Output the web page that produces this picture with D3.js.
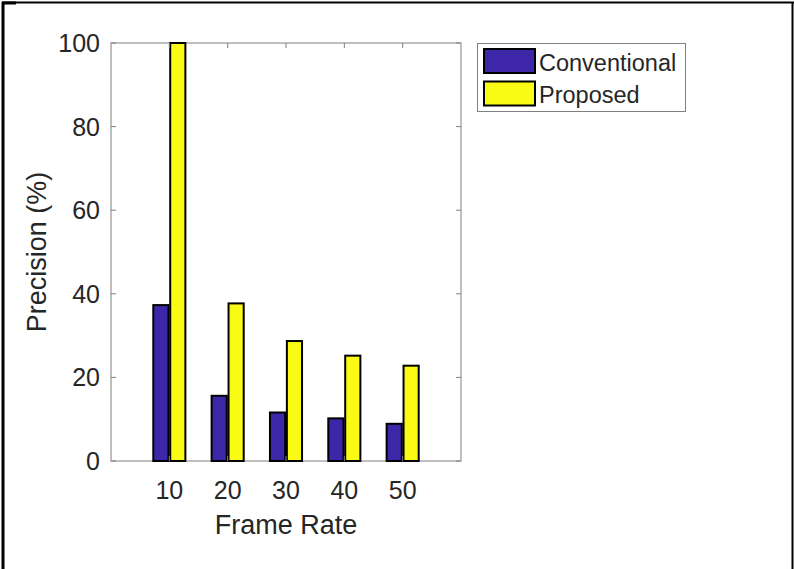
<!DOCTYPE html>
<html>
<head>
<meta charset="utf-8">
<script src="https://cdn.jsdelivr.net/npm/d3@7"></script>
<style>
  body { margin: 0; background: #fff; }
  svg text { font-family: "Liberation Sans", Arial, sans-serif; fill: #262626; }
</style>
</head>
<body>
<div id="chart"></div>
<script>
// data
const frameRates   = [10, 20, 30, 40, 50];
const conventional = [37.3, 15.6, 11.6, 10.2, 8.9];
const proposed     = [100, 37.7, 28.7, 25.2, 22.8];
const yTicks       = [0, 20, 40, 60, 80, 100];
const seriesNames  = ["Conventional", "Proposed"];
const seriesColors = ["#3e26a8", "#f9fb15"];

const width = 794, height = 569;
const plot = { left: 111, right: 461, top: 43, bottom: 461 };

const svg = d3.select("#chart").append("svg")
  .attr("width", width)
  .attr("height", height);

// outer frame of the figure
const frame = svg.append("g").attr("stroke", "#000").attr("fill", "none");
frame.append("line").attr("x1", 3).attr("y1", 2).attr("x2", 3).attr("y2", height).attr("stroke-width", 3);
frame.append("line").attr("x1", 2).attr("y1", 2.5).attr("x2", width).attr("y2", 2.5).attr("stroke-width", 2);
frame.append("line").attr("x1", 2).attr("y1", 3).attr("x2", 16).attr("y2", 3).attr("stroke-width", 3);
frame.append("line").attr("x1", 792.5).attr("y1", 2).attr("x2", 792.5).attr("y2", height).attr("stroke-width", 2);

// scales: categories sit at 1..5 on a 0..6 axis like matlab bar()
const x = d3.scaleLinear().domain([0, frameRates.length + 1]).range([plot.left, plot.right]);
const y = d3.scaleLinear().domain([0, 100]).range([plot.bottom, plot.top]);

const barW = 0.26, offset = 0.145;
const series = [conventional, proposed];

// axes box
svg.append("rect")
  .attr("x", plot.left).attr("y", plot.top)
  .attr("width", plot.right - plot.left).attr("height", plot.bottom - plot.top)
  .attr("fill", "none").attr("stroke", "#808080").attr("stroke-width", 1);

// bars
series.forEach((vals, s) => {
  svg.append("g").selectAll("rect")
    .data(vals)
    .enter().append("rect")
    .attr("x", (d, i) => x(i + 1 + (s === 0 ? -offset : offset) - barW / 2))
    .attr("width", x(barW) - x(0))
    .attr("y", d => y(d))
    .attr("height", d => y(0) - y(d))
    .attr("fill", seriesColors[s])
    .attr("stroke", "#000")
    .attr("stroke-width", 2);
});

// ticks (inward, on all sides)
const tickLen = 5;
const ticks = svg.append("g").attr("stroke", "#808080").attr("stroke-width", 1);
yTicks.forEach(t => {
  ticks.append("line").attr("x1", plot.left).attr("x2", plot.left + tickLen).attr("y1", y(t)).attr("y2", y(t));
  ticks.append("line").attr("x1", plot.right).attr("x2", plot.right - tickLen).attr("y1", y(t)).attr("y2", y(t));
});
frameRates.forEach((f, i) => {
  ticks.append("line").attr("x1", x(i + 1)).attr("x2", x(i + 1)).attr("y1", plot.bottom).attr("y2", plot.bottom - tickLen);
  ticks.append("line").attr("x1", x(i + 1)).attr("x2", x(i + 1)).attr("y1", plot.top).attr("y2", plot.top + tickLen);
});

// tick labels
svg.append("g").selectAll("text")
  .data(yTicks)
  .enter().append("text")
  .attr("x", plot.left - 11)
  .attr("y", d => y(d) + 9)
  .attr("text-anchor", "end")
  .style("font-size", "25px")
  .text(d => d);

svg.append("g").selectAll("text")
  .data(frameRates)
  .enter().append("text")
  .attr("x", (d, i) => x(i + 1))
  .attr("y", plot.bottom + 38)
  .attr("text-anchor", "middle")
  .style("font-size", "25px")
  .text(d => d);

// axis labels
svg.append("text")
  .attr("x", (plot.left + plot.right) / 2)
  .attr("y", 534)
  .attr("text-anchor", "middle")
  .style("font-size", "27px")
  .text("Frame Rate");

svg.append("text")
  .attr("transform", `translate(46,${(plot.top + plot.bottom) / 2}) rotate(-90)`)
  .attr("text-anchor", "middle")
  .style("font-size", "27px")
  .text("Precision (%)");

// legend
const legend = svg.append("g");
legend.append("rect")
  .attr("x", 477.5).attr("y", 43.5).attr("width", 208).attr("height", 68)
  .attr("fill", "#fff").attr("stroke", "#808080").attr("stroke-width", 1);

seriesNames.forEach((name, s) => {
  const row = legend.append("g").attr("transform", `translate(0,${s * 32.5})`);
  row.append("rect")
    .attr("x", 484).attr("y", 49).attr("width", 51).attr("height", 24)
    .attr("fill", seriesColors[s]).attr("stroke", "#000").attr("stroke-width", 2);
  row.append("text")
    .attr("x", 539).attr("y", 70.5)
    .style("font-size", "23.5px")
    .text(name);
});
</script>
</body>
</html>
